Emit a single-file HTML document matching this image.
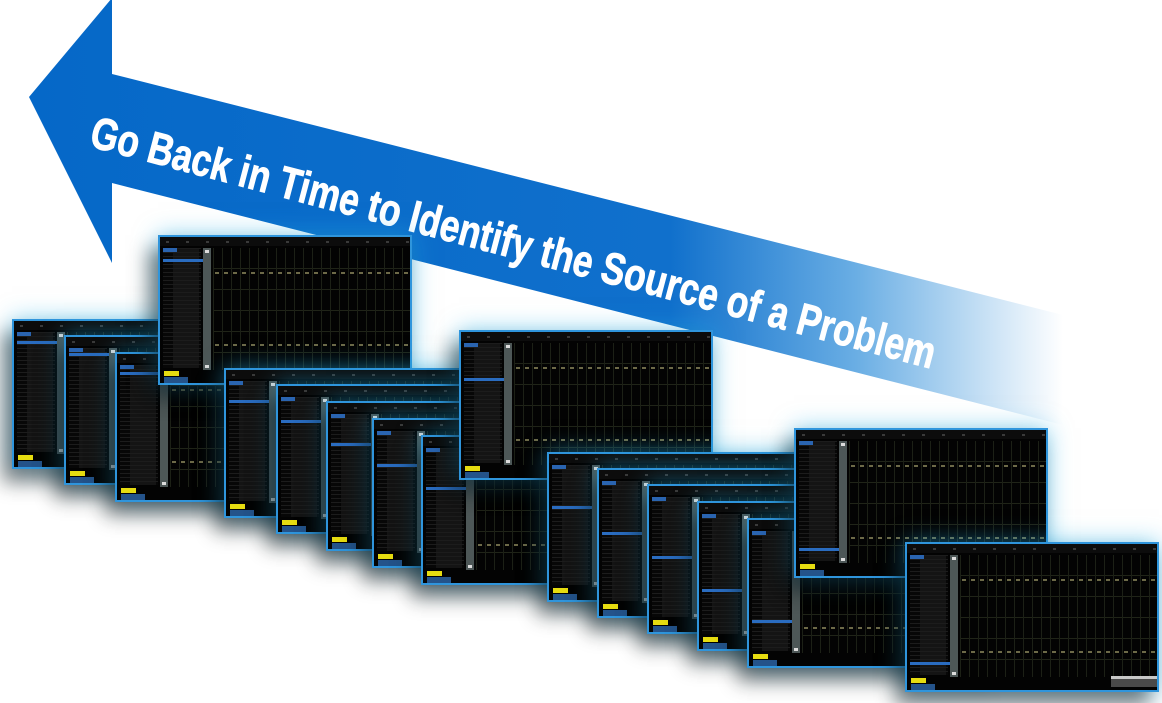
<!DOCTYPE html>
<html><head><meta charset="utf-8">
<style>
html,body{margin:0;padding:0;background:#fff;}
body{width:1162px;height:703px;position:relative;overflow:hidden;font-family:"Liberation Sans",sans-serif;}
svg.arrow{position:absolute;left:0;top:0;}
.s{position:absolute;width:250px;height:146px;border:2px solid #2f95dc;background:#030303;
 box-shadow:-10px 14px 18px rgba(0,0,0,0.45),0 0 22px rgba(40,175,230,0.55);overflow:hidden;}
.s .tb{position:absolute;left:0;top:0;right:0;height:9px;background:#0c0c0c;
 background-image:repeating-linear-gradient(90deg,transparent 0 6px,#3a3a3a 6px 9px,transparent 9px 20px);
 background-size:100% 2px;background-repeat:repeat-x;background-position:0 4px;}
.s .ls{position:absolute;left:3px;top:11px;width:38px;height:120px;background:#070707;
 background-image:repeating-linear-gradient(180deg,#1c1c1c 0 1px,transparent 1px 4px),linear-gradient(90deg,transparent 0 10px,#141414 10px 36px,transparent 36px);}
.s .ls:before{content:"";position:absolute;left:0;top:0;width:14px;height:4px;background:#2a64b0;}
.s .hl{position:absolute;left:3px;width:46px;height:3px;background:#2a6cc0;}
.s .sc{position:absolute;left:43px;top:11px;width:8px;height:122px;background:#4d5757;}
.s .sc:before,.s .sc:after{content:"";position:absolute;left:2px;width:4px;height:3px;background:#ddd;}
.s .sc:before{top:2px}.s .sc:after{bottom:2px}
.s .pl{position:absolute;left:53px;top:11px;right:0;height:122px;
 background-image:repeating-linear-gradient(90deg,#1c2016 0 1px,transparent 1px 9px),
 repeating-linear-gradient(180deg,transparent 0 20px,#202418 20px 21px);}
.s .r1,.s .r2{position:absolute;left:55px;right:2px;height:2px;
 background-image:repeating-linear-gradient(90deg,#6d6a48 0 4px,transparent 4px 9px);}
.s .r1{top:35px}.s .r2{top:107px}
.s .y{position:absolute;left:4px;top:134px;width:15px;height:5px;background:#e6dc10;}
.s .b{position:absolute;left:4px;top:140px;width:24px;height:7px;background:#24538a;}
.s .wb{position:absolute;left:204px;top:132px;width:46px;height:11px;background:#4a4a4a;
 background-image:linear-gradient(180deg,#c8c8c8 0 3px,transparent 3px);}
</style></head><body>
<svg class="arrow" width="1162" height="703" viewBox="0 0 1162 703">
<defs>
<linearGradient id="g" gradientUnits="userSpaceOnUse" x1="29" y1="0" x2="1063" y2="0">
<stop offset="0" stop-color="#0568c8"/>
<stop offset="0.62" stop-color="#1070cc"/>
<stop offset="0.8" stop-color="#6aaee4"/>
<stop offset="1" stop-color="#ffffff"/>
</linearGradient>
</defs>
<polygon points="29,97 112,-2 112,74 1063,315 1063,425 112,183 112,263" fill="url(#g)"/>
<text x="88" y="146" transform="rotate(14.8 88 146)" font-family="Liberation Sans, sans-serif" font-weight="bold" font-size="45" fill="#fff" stroke="#fff" stroke-width="0.8" textLength="872" lengthAdjust="spacingAndGlyphs">Go Back in Time to Identify the Source of a Problem</text>
</svg>

<div class="s" style="left:12px;top:319px"><div class="tb"></div><div class="pl"></div><div class="r1"></div><div class="r2"></div><div class="ls"></div><div class="hl" style="top:20px"></div><div class="sc"></div><div class="y"></div><div class="b"></div></div>
<div class="s" style="left:64px;top:335px"><div class="tb"></div><div class="pl"></div><div class="r1"></div><div class="r2"></div><div class="ls"></div><div class="hl" style="top:16px"></div><div class="sc"></div><div class="y"></div><div class="b"></div></div>
<div class="s" style="left:115px;top:352px"><div class="tb"></div><div class="pl"></div><div class="r1"></div><div class="r2"></div><div class="ls"></div><div class="hl" style="top:18px"></div><div class="sc"></div><div class="y"></div><div class="b"></div></div>
<div class="s" style="left:158px;top:235px"><div class="tb"></div><div class="pl"></div><div class="r1"></div><div class="r2"></div><div class="ls"></div><div class="hl" style="top:22px"></div><div class="sc"></div><div class="y"></div><div class="b"></div></div>
<div class="s" style="left:224px;top:368px"><div class="tb"></div><div class="pl"></div><div class="r1"></div><div class="r2"></div><div class="ls"></div><div class="hl" style="top:30px"></div><div class="sc"></div><div class="y"></div><div class="b"></div></div>
<div class="s" style="left:276px;top:384px"><div class="tb"></div><div class="pl"></div><div class="r1"></div><div class="r2"></div><div class="ls"></div><div class="hl" style="top:34px"></div><div class="sc"></div><div class="y"></div><div class="b"></div></div>
<div class="s" style="left:326px;top:401px"><div class="tb"></div><div class="pl"></div><div class="r1"></div><div class="r2"></div><div class="ls"></div><div class="hl" style="top:40px"></div><div class="sc"></div><div class="y"></div><div class="b"></div></div>
<div class="s" style="left:372px;top:418px"><div class="tb"></div><div class="pl"></div><div class="r1"></div><div class="r2"></div><div class="ls"></div><div class="hl" style="top:44px"></div><div class="sc"></div><div class="y"></div><div class="b"></div></div>
<div class="s" style="left:421px;top:435px"><div class="tb"></div><div class="pl"></div><div class="r1"></div><div class="r2"></div><div class="ls"></div><div class="hl" style="top:50px"></div><div class="sc"></div><div class="y"></div><div class="b"></div></div>
<div class="s" style="left:459px;top:330px"><div class="tb"></div><div class="pl"></div><div class="r1"></div><div class="r2"></div><div class="ls"></div><div class="hl" style="top:46px"></div><div class="sc"></div><div class="y"></div><div class="b"></div></div>
<div class="s" style="left:547px;top:452px"><div class="tb"></div><div class="pl"></div><div class="r1"></div><div class="r2"></div><div class="ls"></div><div class="hl" style="top:52px"></div><div class="sc"></div><div class="y"></div><div class="b"></div></div>
<div class="s" style="left:597px;top:468px"><div class="tb"></div><div class="pl"></div><div class="r1"></div><div class="r2"></div><div class="ls"></div><div class="hl" style="top:62px"></div><div class="sc"></div><div class="y"></div><div class="b"></div></div>
<div class="s" style="left:647px;top:484px"><div class="tb"></div><div class="pl"></div><div class="r1"></div><div class="r2"></div><div class="ls"></div><div class="hl" style="top:70px"></div><div class="sc"></div><div class="y"></div><div class="b"></div></div>
<div class="s" style="left:697px;top:501px"><div class="tb"></div><div class="pl"></div><div class="r1"></div><div class="r2"></div><div class="ls"></div><div class="hl" style="top:86px"></div><div class="sc"></div><div class="y"></div><div class="b"></div></div>
<div class="s" style="left:747px;top:518px"><div class="tb"></div><div class="pl"></div><div class="r1"></div><div class="r2"></div><div class="ls"></div><div class="hl" style="top:100px"></div><div class="sc"></div><div class="y"></div><div class="b"></div></div>
<div class="s" style="left:794px;top:428px"><div class="tb"></div><div class="pl"></div><div class="r1"></div><div class="r2"></div><div class="ls"></div><div class="hl" style="top:118px"></div><div class="sc"></div><div class="y"></div><div class="b"></div></div>
<div class="s" style="left:905px;top:542px"><div class="tb"></div><div class="pl"></div><div class="r1"></div><div class="r2"></div><div class="ls"></div><div class="hl" style="top:118px"></div><div class="sc"></div><div class="y"></div><div class="b"></div><div class="wb"></div></div>
</body></html>
